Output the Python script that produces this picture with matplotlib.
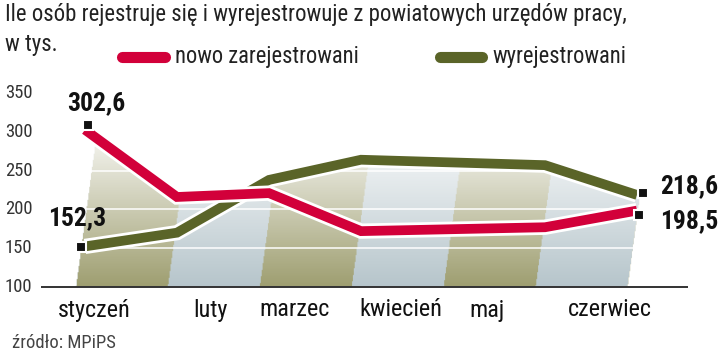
import numpy as np
import matplotlib
matplotlib.use("Agg")
import matplotlib.pyplot as plt
import matplotlib.patheffects as pe
from matplotlib import font_manager as fm

# data (thousands of people)
months = ["styczeń", "luty", "marzec", "kwiecień", "maj", "czerwiec"]
nowo = [302.6, 216, 221, 172, 177, 198.5]
wyrej = [152.3, 170, 238, 264, 257, 218.6]
yticks = [100, 150, 200, 250, 300, 350]

# layout (slot positions of points and month labels)
pt_x = np.array([0, 1, 2, 3, 5, 6])
lab_x = [0.1, 1.36, 2.28, 3.43, 4.37, 5.7]

RED = "#d2003a"
GREEN = "#5a6428"
OLIVE = np.array([158, 158, 112]) / 255
BLUE = np.array([182, 197, 203]) / 255

# pick a narrow font if one is there
installed = {f.name for f in fm.fontManager.ttflist}
FONT = "Liberation Sans"
scale = 1.0
for name, s in [("Roboto Condensed", 1.12), ("Liberation Sans Narrow", 1.2)]:
    if name in installed:
        FONT, scale = name, s
        break

fig = plt.figure(figsize=(7.2, 3.55), dpi=100)
ax = fig.add_axes([0, 0, 1, 1])
px = 92.0          # pixels per slot
py = 0.776         # pixels per unit
x0, y0 = 85, 287   # pixel pos of slot 0 / value 100
ax.set_xlim(-x0 / px, (720 - x0) / px)
ax.set_ylim(100 - (355 - y0) / py, 100 + y0 / py)
ax.axis("off")

# striped, fading fill under both lines (slanted columns)
slant = 0.00114
xs = np.linspace(-0.4, 6.4, 700)
ys = np.linspace(100, 320, 300)
X, Y = np.meshgrid(xs, ys)
top = np.maximum(np.interp(xs, pt_x, nowo), np.interp(xs, pt_x, wyrej)) - 3
xe = X - slant * (Y - 100)
col = np.floor(xe + 0.1).astype(int)
inside = (xe >= -0.1) & (xe <= 5.9) & (Y <= top[None, :])
t = np.clip((Y - 100) / 190, 0, 1)[..., None] * 0.88
base = np.where((col % 2 == 0)[..., None], OLIVE, BLUE)
rgb = base * (1 - t) + t
img = np.dstack([rgb, inside.astype(float)])
ax.imshow(img, extent=[xs[0], xs[-1], ys[0], ys[-1]], origin="lower",
          aspect="auto", zorder=1, interpolation="bilinear")

# white grid lines visible on the fill
for v in yticks[1:]:
    ax.axhline(v, color="white", lw=1.2, alpha=0.9, zorder=2)
for v in yticks:
    ax.text(-0.87, v, str(v), fontsize=12 * scale, color="#333333",
            family=FONT, va="center", ha="left")
ax.plot([-0.48, 6.55], [100, 100], color="#333333", lw=1.4, zorder=3,
        solid_capstyle="butt")

stroke = [pe.Stroke(linewidth=11, foreground="white"), pe.Normal()]
ax.plot(pt_x, wyrej, color=GREEN, lw=7, zorder=4, path_effects=stroke,
        solid_joinstyle="miter", solid_capstyle="butt")
ax.plot(pt_x, nowo, color=RED, lw=7, zorder=5, path_effects=stroke,
        solid_joinstyle="miter", solid_capstyle="butt")

# end markers
mk = dict(marker="s", ms=7, color="#111111", mec="white", mew=1.5, ls="none", zorder=6)
ax.plot([pt_x[0] + 0.03, pt_x[-1] + 0.02], [nowo[0] + 6, nowo[-1] - 6], **mk)
ax.plot([pt_x[0] - 0.04, pt_x[-1] + 0.07], [wyrej[0] - 1, wyrej[-1] + 3], **mk)

vfont = dict(fontsize=16.5 * scale, fontweight="bold", family=FONT,
             color="#111111", zorder=7)
ax.text(pt_x[0] - 0.19, nowo[0] + 19, "302,6", ha="left", va="bottom", **vfont)
ax.text(pt_x[0] - 0.40, wyrej[0] + 21, "152,3", ha="left", va="bottom", **vfont)
ax.text(pt_x[-1] + 0.25, wyrej[-1] + 11.5, "218,6", ha="left", va="center", **vfont)
ax.text(pt_x[-1] + 0.25, nowo[-1] - 13.5, "198,5", ha="left", va="center", **vfont)

for lx, m in zip(lab_x, months):
    ax.text(lx, 100 - 23 / py, m, fontsize=15.5 * scale, family=FONT,
            color="#111111", ha="center", va="center")

fig.text(5 / 720, 1 - 15 / 355,
         "Ile osób rejestruje się i wyrejestrowuje z powiatowych urzędów pracy,",
         fontsize=14.6 * scale, family=FONT, color="#222222", va="center")
fig.text(5 / 720, 1 - 44 / 355, "w tys.", fontsize=14.6 * scale,
         family=FONT, color="#222222", va="center")

# legend
for (x1, x2), c, lab in [((122, 165), RED, "nowo zarejestrowani"),
                         ((440, 482), GREEN, "wyrejestrowani")]:
    fig.lines.append(plt.Line2D([x1 / 720, x2 / 720], [1 - 57 / 355] * 2, color=c,
                                lw=8, solid_capstyle="round", transform=fig.transFigure))
    fig.text((x2 + 10) / 720, 1 - 56 / 355, lab, fontsize=14.5 * scale,
             family=FONT, color="#222222", va="center")

fig.text(12 / 720, 1 - 343 / 355, "źródło: MPiPS", fontsize=12 * scale,
         family=FONT, color="#444444", va="center")

fig.savefig("out.png", dpi=100)
